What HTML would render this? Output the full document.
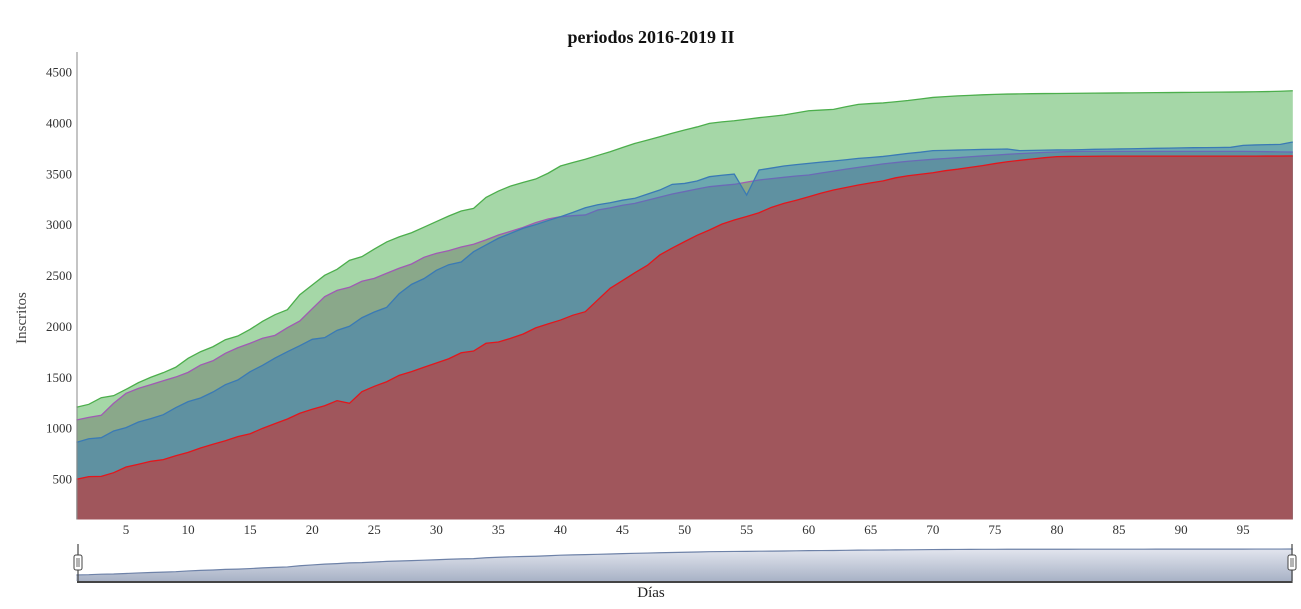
<!DOCTYPE html>
<html><head><meta charset="utf-8"><style>
html,body{margin:0;padding:0;background:#fff;}
svg{display:block;font-family:"Liberation Serif",serif;}
</style></head><body>
<svg id="chart" width="1301" height="609" viewBox="0 0 1301 609">
<text x="651" y="43" text-anchor="middle" font-size="18" font-weight="bold" fill="#111">periodos 2016-2019 II</text>
<text transform="translate(26,318) rotate(-90)" text-anchor="middle" font-size="15" fill="#444">Inscritos</text>
<text x="651" y="597" text-anchor="middle" font-size="15" fill="#222">Días</text>
<g id="plot"></g>
<g id="yaxis"></g>
<g id="xaxis"></g>
<g id="nav"></g>
</svg>
<script>
const days = Array.from({length:99},(_,i)=>i+1);
const red = [497,523,526,562,618,645,674,690,729,762,805,841,876,916,945,998,1044,1090,1146,1185,1220,1270,1244,1358,1411,1456,1519,1555,1598,1640,1682,1741,1758,1834,1846,1883,1925,1985,2025,2062,2110,2144,2260,2374,2450,2528,2600,2702,2770,2833,2895,2947,3005,3045,3080,3117,3170,3209,3240,3274,3310,3340,3365,3389,3410,3430,3460,3480,3495,3510,3530,3545,3563,3580,3600,3618,3632,3645,3658,3668,3670,3671,3672,3673,3673,3673,3673,3673,3673,3673,3673,3673,3673,3673,3673,3673,3674,3674,3675];
const blue = [860,896,906,972,1005,1060,1093,1132,1201,1260,1296,1355,1427,1473,1555,1617,1689,1751,1810,1873,1889,1961,2001,2085,2141,2187,2321,2413,2469,2551,2606,2633,2734,2800,2866,2915,2964,3000,3040,3078,3120,3166,3195,3215,3240,3259,3300,3340,3396,3405,3429,3471,3485,3497,3291,3537,3556,3576,3590,3602,3614,3625,3638,3651,3660,3670,3685,3700,3712,3727,3730,3733,3736,3739,3741,3743,3727,3730,3732,3734,3735,3737,3740,3742,3744,3746,3748,3750,3752,3754,3756,3757,3758,3760,3779,3783,3786,3789,3812];
const purple = [1080,1106,1126,1244,1342,1391,1427,1466,1502,1548,1620,1662,1735,1790,1834,1883,1912,1987,2053,2174,2292,2354,2384,2443,2472,2522,2571,2613,2679,2718,2744,2780,2807,2850,2898,2935,2973,3020,3055,3078,3088,3095,3144,3165,3190,3209,3240,3270,3301,3325,3350,3373,3385,3396,3418,3439,3452,3465,3478,3488,3507,3526,3545,3563,3580,3597,3610,3623,3633,3642,3650,3658,3667,3675,3683,3691,3698,3704,3710,3714,3718,3720,3720,3720,3720,3720,3720,3720,3720,3720,3720,3720,3720,3720,3720,3719,3717,3715,3713];
const green = [1205,1234,1299,1319,1381,1447,1500,1545,1598,1686,1751,1800,1869,1905,1971,2050,2115,2164,2311,2407,2502,2561,2649,2685,2760,2830,2880,2920,2975,3030,3085,3134,3160,3268,3330,3380,3415,3448,3505,3576,3610,3642,3680,3716,3758,3798,3830,3864,3898,3930,3960,3995,4010,4021,4036,4051,4064,4077,4098,4119,4126,4133,4158,4182,4190,4196,4208,4220,4235,4250,4258,4265,4270,4276,4280,4283,4285,4287,4288,4289,4290,4291,4292,4293,4294,4295,4296,4297,4298,4299,4300,4301,4302,4303,4304,4306,4308,4311,4316];
const yTicks = [500,1000,1500,2000,2500,3000,3500,4000,4500];
const xTicks = [5,10,15,20,25,30,35,40,45,50,55,60,65,70,75,80,85,90,95];

const NS="http://www.w3.org/2000/svg";
const X0=76.4, X1=1292.8, Y0=519.5, YMAX=72;
const xS=d=>X0+(d-1)*(X1-X0)/98;
const yS=v=>479-(v-500)*(479-YMAX)/4000;
function mk(tag,attrs,parent){const e=document.createElementNS(NS,tag);for(const k in attrs)e.setAttribute(k,attrs[k]);parent.appendChild(e);return e;}
const plot=document.getElementById('plot');
const series=[
 {name:'green',vals:green,fill:'rgb(76,175,80)',fo:0.5,stroke:'#4cae4c'},
 {name:'purple',vals:purple,fill:'rgb(111,121,109)',fo:0.5,stroke:'#a05ab4'},
 {name:'blue',vals:blue,fill:'rgb(51,122,183)',fo:0.5,stroke:'#3a7ab5'},
 {name:'red',vals:red,fill:'#a0565c',fo:1,stroke:'#e3161c'}];
series.forEach(s=>{
  let line=s.vals.map((v,i)=>(i?'L':'M')+xS(days[i]).toFixed(2)+','+yS(v).toFixed(2)).join('');
  const area=mk('path',{d:line+'L'+xS(days[days.length-1])+','+Y0+'L'+xS(days[0])+','+Y0+'Z',fill:s.fill,'fill-opacity':s.fo},plot);
  
  
  const ln=mk('path',{d:line,fill:'none',stroke:s.stroke,'stroke-width':1.3},plot);
  
  
});
const ya=document.getElementById('yaxis');
mk('line',{x1:77,y1:52,x2:77,y2:Y0,stroke:'#888','stroke-width':1},ya);
yTicks.forEach(t=>{const e=mk('text',{x:72,y:yS(t)+4.5,'text-anchor':'end','font-size':13,fill:'#333'},ya);e.textContent=t;
  
  });
const xa=document.getElementById('xaxis');
xTicks.forEach(t=>{const e=mk('text',{x:xS(t),y:534,'text-anchor':'middle','font-size':13,fill:'#333'},xa);e.textContent=t;
  
  });
// navigator
const nav=document.getElementById('nav');
const defs=mk('defs',{},nav);
const g=mk('linearGradient',{id:'ng',x1:0,y1:0,x2:0,y2:1},defs);
mk('stop',{offset:0,'stop-color':'#e2e5ee'},g);mk('stop',{offset:1,'stop-color':'#a8b2c6'},g);
const NB=581,NT=549,gmin=480,gmax=Math.max(...green);
const ny=v=>NB-(v-gmin)*(NB-NT)/(gmax-gmin);
let nl=green.map((v,i)=>(i?'L':'M')+xS(days[i]).toFixed(2)+','+ny(v).toFixed(2)).join('');
const na=mk('path',{d:nl+'L'+X1+','+NB+'L'+X0+','+NB+'Z',fill:'url(#ng)'},nav);


mk('path',{d:nl,fill:'none',stroke:'#6e82a8','stroke-width':1.2},nav);
mk('line',{x1:77,y1:582,x2:1292,y2:582,stroke:'#444','stroke-width':2},nav);
mk('line',{x1:78,y1:544,x2:78,y2:583,stroke:'#444','stroke-width':1.2},nav);
mk('line',{x1:1292,y1:544,x2:1292,y2:583,stroke:'#444','stroke-width':1.2},nav);
[78,1292].forEach((hx,i)=>{
  const h=mk('rect',{x:hx-4,y:555,width:8,height:15,rx:2,fill:'#fff',stroke:'#444','stroke-width':1},nav);
  
  
  mk('line',{x1:hx-1,y1:558,x2:hx-1,y2:567,stroke:'#444','stroke-width':0.8},nav);
  mk('line',{x1:hx+1,y1:558,x2:hx+1,y2:567,stroke:'#444','stroke-width':0.8},nav);
});
</script>
</body></html>
